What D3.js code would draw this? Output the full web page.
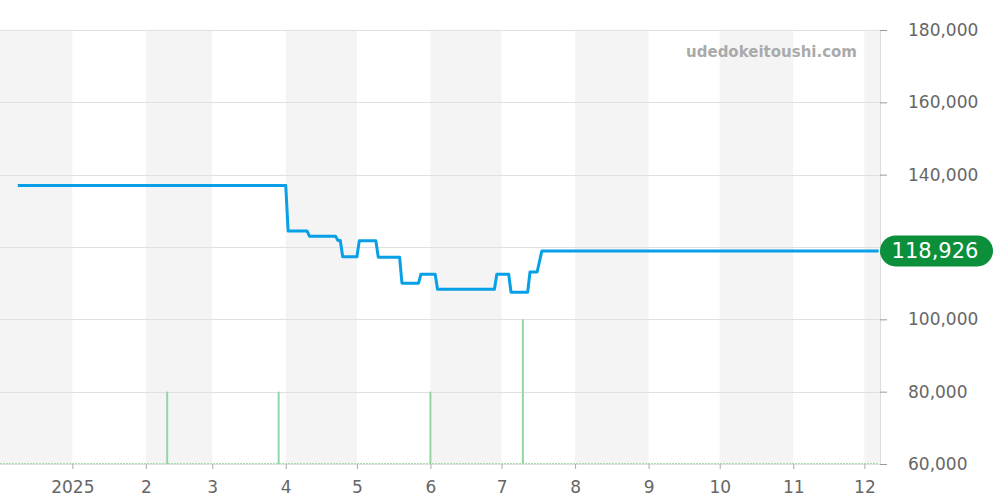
<!DOCTYPE html>
<html>
<head>
<meta charset="utf-8">
<script src="https://cdn.jsdelivr.net/npm/d3@7"></script>
<style>
  body { margin: 0; background: #fff; }
  svg { display: block; font-family: "DejaVu Sans", sans-serif; }
</style>
</head>
<body>
<div id="chart"></div>
<script>
// price line data (step like, daily points)
const priceDates = [
  "2024-12-09", "2025-04-01", "2025-04-02", "2025-04-10", "2025-04-11",
  "2025-04-22", "2025-04-23", "2025-04-24", "2025-04-25", "2025-05-01",
  "2025-05-02", "2025-05-09", "2025-05-10", "2025-05-19", "2025-05-20",
  "2025-05-27", "2025-05-28", "2025-06-03", "2025-06-04", "2025-06-28",
  "2025-06-29", "2025-07-04", "2025-07-05", "2025-07-12", "2025-07-13",
  "2025-07-16", "2025-07-18", "2025-12-07"
];
const priceValues = [
  137000, 137000, 124400, 124400, 123000,
  123000, 121800, 121800, 117300, 117300,
  121700, 121700, 117200, 117200, 110000,
  110000, 112500, 112500, 108300, 108300,
  112500, 112500, 107500, 107500, 113100,
  113100, 118926, 118926
];

// green volume bars
const volumeDates = ["2025-02-10", "2025-03-29", "2025-06-01", "2025-07-10"];
const volumeCounts = [1, 1, 1, 2];

// axis ticks
const monthTicks = ["2025-01-01", "2025-02-01", "2025-03-01", "2025-04-01", "2025-05-01", "2025-06-01",
  "2025-07-01", "2025-08-01", "2025-09-01", "2025-10-01", "2025-11-01", "2025-12-01"];
const monthLabels = ["2025", "2", "3", "4", "5", "6", "7", "8", "9", "10", "11", "12"];
const priceTicks = [60000, 80000, 100000, 120000, 140000, 160000, 180000];
const lastPrice = 118926;

const width = 1000, height = 500;
const plot = { left: 0, right: 880, top: 30, bottom: 464 };

const parse = d3.timeParse("%Y-%m-%d");

const x = d3.scaleTime()
  .domain([new Date(2024, 11, 1, 12), new Date(2025, 11, 7, 14)])
  .range([plot.left, plot.right]);

const y = d3.scaleLinear()
  .domain([60000, 180000])
  .range([plot.bottom, plot.top]);

// volume scale, 1 unit = 20,000 on the price axis
const yVol = d3.scaleLinear()
  .domain([0, 6])
  .range([plot.bottom, plot.top]);

const svg = d3.select("#chart")
  .append("svg")
  .attr("width", width)
  .attr("height", height);

// alternating month bands
const monthStarts = d3.timeMonth.range(new Date(2024, 11, 1), new Date(2026, 0, 1));
svg.append("g")
  .selectAll("rect")
  .data(monthStarts.filter((d, i) => i % 2 === 0))
  .join("rect")
  .attr("x", d => Math.max(plot.left, x(d)))
  .attr("width", d => Math.min(plot.right, x(d3.timeMonth.offset(d, 1))) - Math.max(plot.left, x(d)))
  .attr("y", plot.top)
  .attr("height", plot.bottom - plot.top)
  .attr("fill", "#f4f4f4");

// horizontal grid lines
svg.append("g")
  .selectAll("line")
  .data(priceTicks)
  .join("line")
  .attr("x1", plot.left)
  .attr("x2", plot.right)
  .attr("y1", d => Math.round(y(d)) + 0.5)
  .attr("y2", d => Math.round(y(d)) + 0.5)
  .attr("stroke", "#e0e0e0");

// right border line
svg.append("line")
  .attr("x1", plot.right + 0.5).attr("x2", plot.right + 0.5)
  .attr("y1", plot.top).attr("y2", plot.bottom)
  .attr("stroke", "#dcdcdc");

// watermark
svg.append("text")
  .attr("x", 857)
  .attr("y", 57)
  .attr("text-anchor", "end")
  .attr("font-size", 15)
  .attr("font-weight", "bold")
  .attr("fill", "#aaaaaa")
  .text("udedokeitoushi.com");

// bottom axis (ticks and labels only)
const xAxis = svg.append("g")
  .attr("transform", `translate(0,${plot.bottom})`)
  .call(d3.axisBottom(x)
    .tickValues(monthTicks.map(parse))
    .tickFormat((d, i) => monthLabels[i])
    .tickSize(5)
    .tickPadding(12));
xAxis.select(".domain").remove();
xAxis.selectAll(".tick line").attr("stroke", "#aaaaaa");
xAxis.selectAll("text")
  .attr("fill", "#666")
  .attr("font-size", 17)
  .attr("font-family", "DejaVu Sans, sans-serif");

// volume baseline (dotted)
svg.append("line")
  .attr("x1", plot.left).attr("x2", plot.right - 2)
  .attr("y1", plot.bottom - 0.5).attr("y2", plot.bottom - 0.5)
  .attr("stroke", "#a9dab1")
  .attr("stroke-dasharray", "2,1");

// volume bars
svg.append("g")
  .selectAll("line")
  .data(volumeDates.map((d, i) => ({ date: parse(d), count: volumeCounts[i] })))
  .join("line")
  .attr("x1", d => x(d.date))
  .attr("x2", d => x(d.date))
  .attr("y1", plot.bottom)
  .attr("y2", d => yVol(d.count))
  .attr("stroke", "#93d7a0")
  .attr("stroke-width", 2);

// right axis (the label under the badge is hidden, as in the original)
const yAxis = svg.append("g")
  .attr("transform", `translate(${plot.right},0)`)
  .call(d3.axisRight(y)
    .tickValues(priceTicks)
    .tickFormat(d3.format(","))
    .tickSize(7)
    .tickPadding(21));
yAxis.select(".domain").remove();
yAxis.selectAll(".tick line").attr("stroke", "#999");
yAxis.selectAll("text")
  .attr("fill", "#666")
  .attr("font-size", 17)
  .attr("font-family", "DejaVu Sans, sans-serif");
yAxis.selectAll(".tick")
  .filter(d => Math.abs(y(d) - y(lastPrice)) < 20)
  .remove();

// price line
const priceData = priceDates.map((d, i) => ({ date: parse(d), value: priceValues[i] }));
const line = d3.line()
  .x(d => x(d.date))
  .y(d => y(d.value));

svg.append("path")
  .datum(priceData)
  .attr("d", line)
  .attr("fill", "none")
  .attr("stroke", "#07a0e7")
  .attr("stroke-width", 3)
  .attr("stroke-linejoin", "round");

// last price badge
const badge = svg.append("g")
  .attr("transform", `translate(${plot.right},${y(lastPrice)})`);
badge.append("rect")
  .attr("x", 0)
  .attr("y", -15.5)
  .attr("width", 113)
  .attr("height", 31)
  .attr("rx", 15.5)
  .attr("fill", "#0c8f3b");
badge.append("text")
  .attr("x", 55)
  .attr("y", 0)
  .attr("dy", "0.36em")
  .attr("text-anchor", "middle")
  .attr("font-size", 21)
  .attr("fill", "#fff")
  .text(d3.format(",")(lastPrice));
</script>
</body>
</html>
